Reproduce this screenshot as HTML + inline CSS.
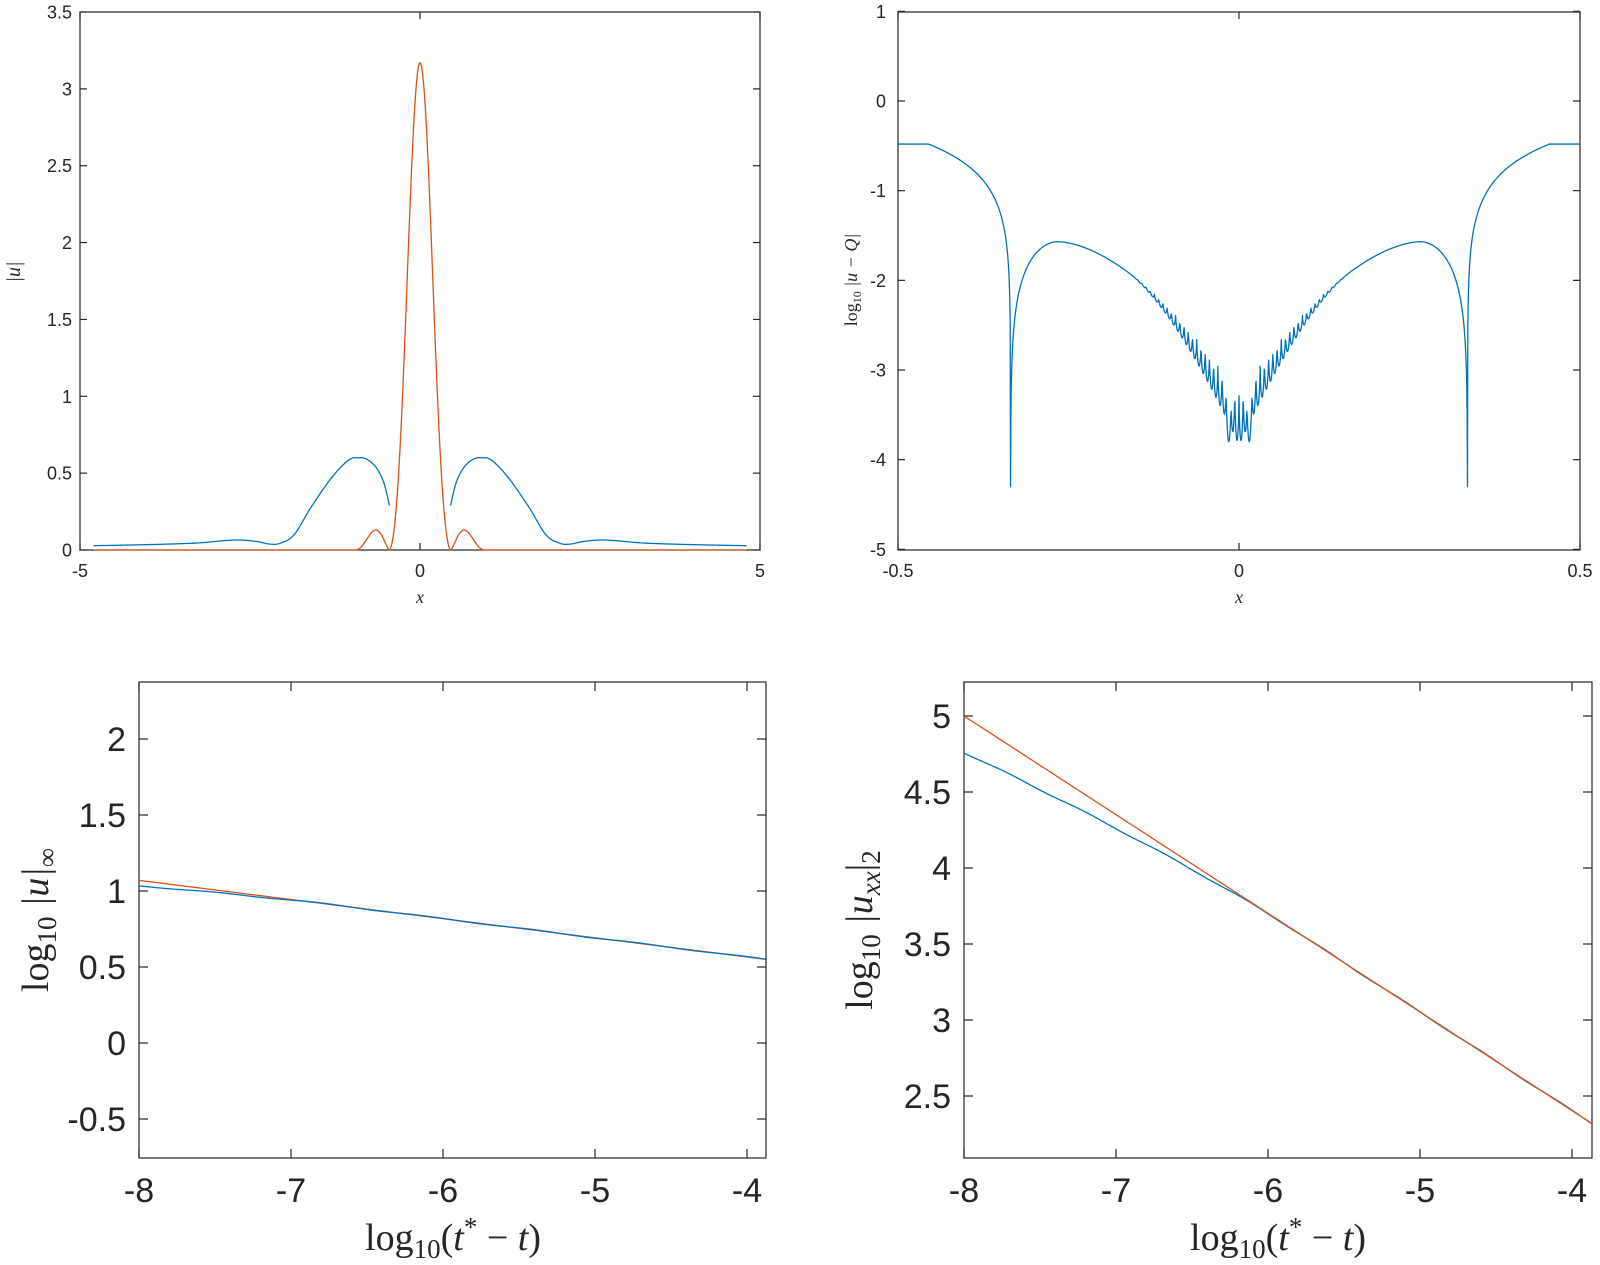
<!DOCTYPE html>
<html><head><meta charset="utf-8"><style>
html,body{margin:0;padding:0;background:#fff}
svg{display:block}
.t{font-family:"Liberation Sans","DejaVu Sans",sans-serif;fill:#262626}
.s{font-family:"Liberation Serif","DejaVu Serif",serif;fill:#262626}
</style></head><body>
<svg id="c" width="1600" height="1265" viewBox="0 0 1600 1265" xmlns="http://www.w3.org/2000/svg">
<g fill="none" stroke="#262626" stroke-width="1.2">
<rect x="80" y="12" width="680" height="538"/>
<rect x="898" y="12" width="682" height="538"/>
<rect x="139" y="682" width="627" height="476"/>
<rect x="964" y="682" width="628" height="476"/>
</g>
<g id="ticks" stroke="#262626" stroke-width="1.2"></g>
<g id="curves" fill="none" stroke-width="1.3" stroke-linejoin="round"></g>
<g id="labels"></g>
<text class="s" font-size="20" font-style="italic" transform="translate(20,272) rotate(-90)" text-anchor="middle">|u|</text>
<text class="s" font-size="18" font-style="italic" x="420" y="603" text-anchor="middle">x</text>
<text class="s" font-size="18" font-style="italic" x="1239" y="603" text-anchor="middle">x</text>
<text class="s" font-size="18" transform="translate(857,280) rotate(-90)" text-anchor="middle">log<tspan font-size="12" dy="4">10</tspan><tspan dy="-4" font-style="italic"> |u − Q|</tspan></text>
<text class="s" font-size="38" transform="translate(48,920) rotate(-90)" text-anchor="middle">log<tspan font-size="27" dy="8">10</tspan><tspan dy="-8" font-style="italic"> |u|</tspan><tspan font-size="27" dy="8">∞</tspan></text>
<text class="s" font-size="38" transform="translate(872,930) rotate(-90)" text-anchor="middle">log<tspan font-size="27" dy="8">10</tspan><tspan dy="-8" font-style="italic"> |u</tspan><tspan font-size="27" dy="8" font-style="italic">xx</tspan><tspan dy="-8">|</tspan><tspan font-size="27" dy="8">2</tspan></text>
<text class="s" font-size="38" x="453" y="1250" text-anchor="middle">log<tspan font-size="27" dy="8">10</tspan><tspan dy="-8">(</tspan><tspan font-style="italic">t</tspan><tspan font-size="27" dy="-14">*</tspan><tspan dy="14"> − </tspan><tspan font-style="italic">t</tspan>)</text>
<text class="s" font-size="38" x="1278" y="1250" text-anchor="middle">log<tspan font-size="27" dy="8">10</tspan><tspan dy="-8">(</tspan><tspan font-style="italic">t</tspan><tspan font-size="27" dy="-14">*</tspan><tspan dy="14"> − </tspan><tspan font-style="italic">t</tspan>)</text>
</svg>
<script>
var NS="http://www.w3.org/2000/svg";
var T=document.getElementById('ticks'),C=document.getElementById('curves'),L=document.getElementById('labels');
function ln(x1,y1,x2,y2){var e=document.createElementNS(NS,'line');e.setAttribute('x1',x1);e.setAttribute('y1',y1);e.setAttribute('x2',x2);e.setAttribute('y2',y2);T.appendChild(e);}
function tx(x,y,s,fs,anc){var e=document.createElementNS(NS,'text');e.setAttribute('class','t');e.setAttribute('x',x);e.setAttribute('y',y);e.setAttribute('font-size',fs);e.setAttribute('text-anchor',anc);e.textContent=s;L.appendChild(e);}
function path(pts,col){var d='';pts.forEach(function(p,i){d+=(i?'L':'M')+p[0].toFixed(2)+' '+p[1].toFixed(2);});var e=document.createElementNS(NS,'path');e.setAttribute('d',d);e.setAttribute('stroke',col);C.appendChild(e);}
function axes(o){
 o.xt.forEach(function(a){ln(a[0],o.b,a[0],o.b-o.tl);ln(a[0],o.t,a[0],o.t+o.tl);tx(a[0],o.b+o.xo,a[1],o.fs,'middle');});
 o.yt.forEach(function(a){ln(o.l,a[0],o.l+o.tl,a[0]);ln(o.r,a[0],o.r-o.tl,a[0]);tx(o.l-o.yo,a[0]+o.fs*0.36,a[1],o.fs,'end');});
}
var tlx=function(x){return 420+68*x;},tly=function(v){return 550-153.71*v;};
var yt=[];for(var i=0;i<=7;i++){yt.push([tly(i*0.5),String(i*0.5)]);}
axes({l:80,r:760,t:12,b:550,tl:7,fs:18,xo:27,yo:8,xt:[[80,'-5'],[420,'0'],[760,'5']],yt:yt});
var trx=function(x){return 1239+682*x;},tr_y=function(v){return 101-89.67*v;};
yt=[];for(var v=1;v>=-5;v--){yt.push([tr_y(v),String(v)]);}
axes({l:898,r:1580,t:12,b:550,tl:7,fs:18,xo:27,yo:12,xt:[[898,'-0.5'],[1239,'0'],[1580,'0.5']],yt:yt});
var blx=function(x){return 139+152*(x+8);},bly=function(v){return 1043-152*v;};
var xt=[];for(var k=-8;k<=-4;k++)xt.push([blx(k),String(k)]);
yt=[];for(var v2=-0.5;v2<=2.01;v2+=0.5){yt.push([bly(v2),String(Math.round(v2*10)/10)]);}
axes({l:139,r:766,t:682,b:1158,tl:9,fs:34,xo:44,yo:13,xt:xt,yt:yt});
var brx=function(x){return 964+152*(x+8);},bry=function(v){return 1476-152*v;};
xt=[];for(k=-8;k<=-4;k++)xt.push([brx(k),String(k)]);
yt=[];for(v2=2.5;v2<=5.01;v2+=0.5){yt.push([bry(v2),String(Math.round(v2*10)/10)]);}
axes({l:964,r:1592,t:682,b:1158,tl:9,fs:34,xo:44,yo:13,xt:xt,yt:yt});

var BLUE='#0072BD',OR='#D95319';
var cp=[[0.45,0.29],[0.49,0.37],[0.55,0.46],[0.65,0.54],[0.78,0.59],[0.9,0.60],[1.05,0.585],[1.3,0.47],[1.6,0.28],[1.85,0.1],[2.05,0.045],[2.2,0.038],[2.4,0.055],[2.65,0.065],[2.9,0.06],[3.3,0.045],[4,0.035],[4.8,0.028]];
function cr(pts){var out=[];for(var i=0;i<pts.length-1;i++){var p0=pts[Math.max(0,i-1)],p1=pts[i],p2=pts[i+1],p3=pts[Math.min(pts.length-1,i+2)];for(var t=0;t<1;t+=0.05){var t2=t*t,t3=t2*t;var f=function(a,b,c,d){return 0.5*((2*b)+(-a+c)*t+(2*a-5*b+4*c-d)*t2+(-a+3*b-3*c+d)*t3);};out.push([f(p0[0],p1[0],p2[0],p3[0]),f(p0[1],p1[1],p2[1],p3[1])]);}}out.push(pts[pts.length-1]);return out;}
var half=cr(cp);
var L1=[],R1=[];for(i=half.length-1;i>=0;i--)L1.push([tlx(-half[i][0]),tly(half[i][1])]);
for(i=0;i<half.length;i++)R1.push([tlx(half[i][0]),tly(half[i][1])]);
path(L1,BLUE);path(R1,BLUE);
function uo(x){var r=Math.abs(x);
 if(r<0.45){var s=Math.cos(Math.PI/2*r/0.45);return 3.17*Math.pow(s,1.6)*Math.exp(-r*r*6);}
 if(r<0.95){var t=(r-0.45)/0.5;return 0.13*Math.pow(Math.sin(Math.PI*Math.pow(t,0.75)),2);}
 return 0;}
var op=[];for(var x=-4.8;x<=4.8001;x+=0.005)op.push([tlx(x),tly(uo(x))]);path(op,OR);
function tre(x){var r=Math.abs(x),L;
 if(r>=0.455)return -0.48;
 if(r>0.335){L=Math.log10(0.33*Math.pow((r-0.335)/0.12,0.85)+1e-9);}
 else if(r>0.265){L=Math.log10(0.027*Math.sin(Math.PI/2*(0.335-r)/0.07)+1e-9);}
 else{L=-1.57-1.45*Math.pow((0.265-r)/0.24,1.7);}
 if(r<0.16){var amp=0.55*Math.pow(1-r/0.16,1.6);L-=amp*Math.pow(Math.abs(Math.sin(Math.PI*r/0.0062)),0.6);}
 if(r<0.02&&r>0.01)L=Math.min(L,-3.1-0.7*Math.sin(Math.PI*(r-0.01)/0.01));
 return Math.max(L,-4.3);}
var tp=[];for(x=-0.5;x<=0.50001;x+=0.0005)tp.push([trx(x),tr_y(tre(x))]);path(tp,BLUE);
var b1=[],b2=[];for(x=-8;x<=-3.87;x+=0.01){var o=1.07-0.126*(x+8);b2.push([blx(x),bly(o)]);var d=0.035*Math.pow(Math.max(0,(-6.8-x)/1.2),1.3);b1.push([blx(x),bly(o-d+0.003*Math.sin(x*9))]);}
path(b2,OR);path(b1,BLUE);
var c1=[],c2=[];for(x=-8;x<=-3.87;x+=0.01){var o2=5.0-0.649*(x+8);c2.push([brx(x),bry(o2)]);var d2=0.24*Math.pow(Math.max(0,(-5.9-x)/2.1),1.5);c1.push([brx(x),bry(o2-d2+0.004*Math.sin(x*12))]);}
path(c1,BLUE);path(c2,OR);
</script>
</body></html>
